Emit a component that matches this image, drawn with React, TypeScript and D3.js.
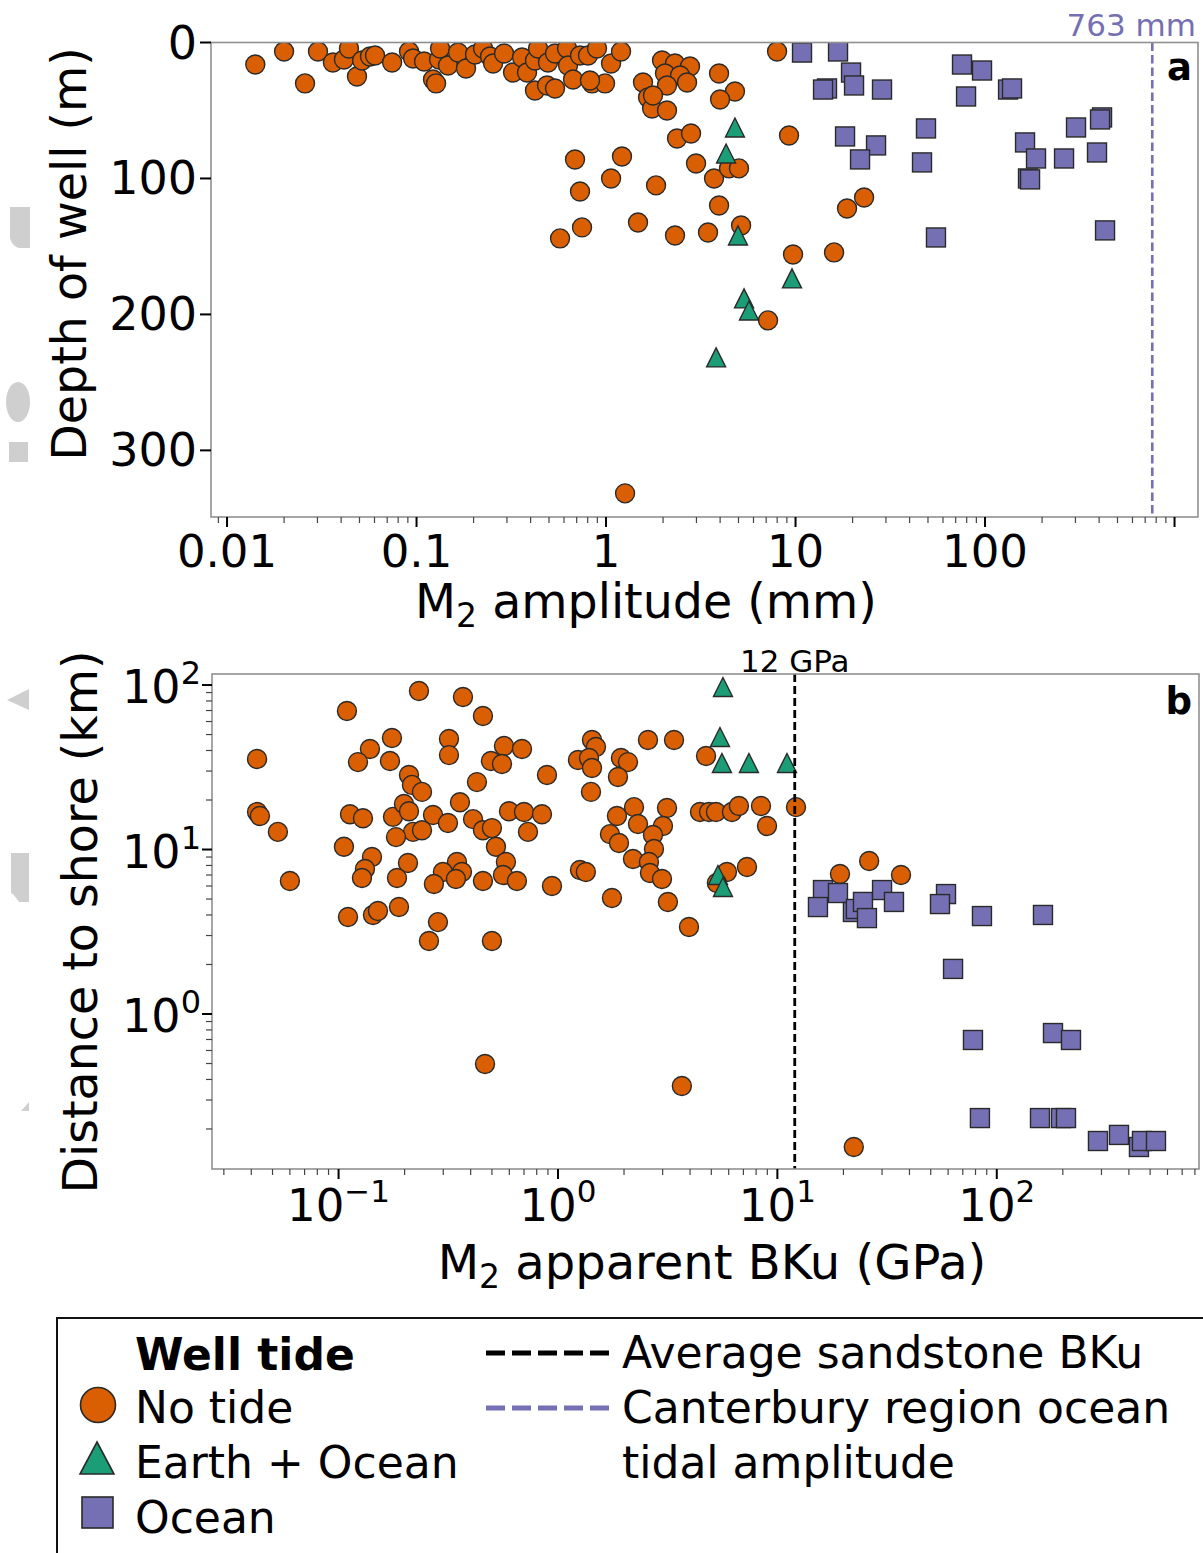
import React, { useEffect, useRef } from 'react';
import * as d3 from 'd3';

// ---- panel a: M2 amplitude (mm) vs depth of well (m)
const noTideAmp = [0.0141, 0.02, 0.0258, 0.0302, 0.0362, 0.0414, 0.044, 0.0485, 0.0516, 0.0568, 0.0604, 0.0743, 0.0913, 0.0959, 0.1096, 0.1222, 0.1268, 0.1315, 0.1331, 0.1466, 0.1656, 0.1824, 0.2036, 0.2244, 0.2443, 0.2535, 0.2897, 0.3231, 0.3605, 0.3829, 0.4217, 0.4377, 0.4217, 0.4884, 0.538, 0.494, 0.538, 0.6227, 0.63, 0.6698, 0.7295, 0.8035, 0.8436, 0.8963, 0.988, 1.063, 1.2, 1.567, 1.666, 1.75, 0.823, 1.975, 2.312, 2.774, 2.048, 2.458, 2.676, 2.098, 1.77, 2.098, 3.948, 4.79, 3.997, 2.37, 2.809, 2.985, 0.686, 1.214, 1.063, 1.836, 0.729, 3.715, 4.457, 5.03, 3.948, 0.747, 0.572, 1.475, 2.312, 3.453, 5.16, 7.99, 9.24, 18.7, 23.0, 9.7, 15.97, 7.16, 1.26];
const noTideDepth = [16.2, 6.6, 30.1, 6.6, 14.7, 12.5, 4.4, 25.0, 13.2, 10.3, 9.6, 14.7, 6.6, 11.8, 14.0, 27.2, 30.1, 12.5, 4.4, 16.9, 7.4, 19.1, 8.8, 4.4, 10.3, 15.4, 8.1, 22.1, 11.0, 22.1, 13.2, 4.4, 35.3, 31.6, 33.8, 14.7, 8.1, 4.4, 16.9, 27.2, 9.6, 9.6, 30.1, 4.4, 30.1, 15.4, 6.6, 29.4, 40.4, 48.5, 27.9, 13.2, 15.4, 17.6, 22.8, 24.3, 29.4, 31.6, 39.0, 50.0, 22.8, 36.0, 41.9, 70.6, 66.9, 89.0, 86.0, 83.8, 100.0, 105.1, 109.6, 100.0, 92.6, 92.6, 119.9, 136.0, 144.1, 132.4, 141.9, 139.7, 134.6, 6.6, 68.4, 122.1, 114.0, 155.9, 154.4, 204.4, 331.6];
const earthOceanAmp = [4.79, 4.3, 4.97, 9.58, 5.35, 5.68, 3.81];
const earthOceanDepth = [62.5, 81.6, 141.9, 173.5, 188.2, 197.1, 231.6];
const oceanAmp = [10.82, 16.76, 19.63, 20.36, 14.66, 13.97, 28.6, 75.6, 96.4, 79.4, 132.3, 138.8, 18.25, 26.6, 21.9, 48.8, 46.5, 55.1, 162.6, 185.8, 168.6, 172.8, 261.2, 302.1, 414.4, 404.5, 389.9, 429.8];
const oceanDepth = [7.4, 6.6, 22.1, 31.6, 33.8, 34.6, 34.6, 16.2, 20.6, 39.7, 34.6, 33.8, 69.1, 75.7, 86.0, 63.2, 88.2, 143.4, 73.5, 85.3, 100.0, 100.7, 85.3, 62.5, 55.1, 56.6, 80.9, 138.2];

// ---- panel b: M2 apparent BKu (GPa) vs distance to shore (km)
const noTideBku = [0.2325, 0.369, 0.455, 0.1092, 0.1751, 0.3186, 0.3186, 0.139, 0.1226, 0.1715, 0.0425, 0.2094, 0.216, 0.24, 0.4273, 0.5674, 0.6855, 0.495, 0.5556, 0.891, 1.429, 1.49, 1.234, 1.385, 1.429, 1.414, 1.937, 2.085, 1.877, 2.572, 3.38, 4.73, 0.0425, 0.0529, 0.06, 0.1127, 0.1292, 0.177, 0.1987, 0.2094, 0.2694, 0.3152, 0.3575, 0.41, 0.455, 0.5, 0.598, 0.7, 0.8455, 0.73, 0.2184, 0.24, 0.1827, 0.1058, 0.5217, 0.142, 0.1319, 0.1278, 0.2072, 0.1846, 0.3465, 0.299, 0.365, 0.3427, 0.272, 0.579, 0.5615, 0.455, 0.65, 0.939, 1.26, 1.34, 0.1104, 0.1435, 0.1512, 0.1885, 0.2838, 0.2582, 0.5, 1.857, 2.221, 2.316, 3.14, 3.01, 1.726, 1.897, 2.71, 2.739, 2.197, 2.598, 2.626, 2.979, 1.762, 3.17, 3.955, 4.44, 4.88, 5.25, 6.21, 6.68, 8.42, 8.97, 12.16, 7.27, 5.89, 5.3, 19.29, 26.2, 36.6, 22.3, 0.465, 3.67, 0.0438];
const noTideDist = [91.9, 84.5, 64.8, 69.5, 47.6, 47.0, 37.5, 40.8, 34.0, 34.5, 35.5, 28.4, 24.7, 22.4, 25.7, 42.6, 40.8, 34.5, 33.1, 28.4, 46.3, 42.0, 35.0, 36.0, 31.3, 22.4, 36.0, 34.0, 27.6, 46.3, 46.3, 37.0, 16.9, 12.8, 6.43, 16.4, 15.5, 15.8, 18.9, 17.1, 16.2, 14.5, 19.4, 15.3, 13.1, 13.5, 17.1, 16.9, 16.4, 12.8, 12.8, 13.1, 11.9, 10.4, 10.4, 9.0, 7.61, 6.71, 8.28, 6.71, 8.4, 7.3, 7.3, 6.62, 6.17, 8.4, 7.0, 6.43, 6.43, 6.0, 7.51, 7.3, 3.89, 4.0, 4.23, 4.47, 3.62, 2.78, 2.78, 16.0, 18.1, 14.3, 17.9, 13.9, 12.4, 10.95, 12.25, 10.07, 8.75, 8.4, 7.2, 6.62, 5.07, 4.8, 3.38, 16.9, 16.9, 16.9, 16.9, 18.4, 18.4, 13.9, 18.1, 7.83, 7.3, 6.26, 7.1, 8.51, 7.0, 0.1554, 0.497, 0.365, 16.0];
const earthOceanBku = [5.65, 5.475, 5.59, 7.42, 11.06, 5.36, 5.65];
const earthOceanDist = [97.2, 48.3, 33.6, 33.6, 33.6, 7.0, 5.92];
const oceanBku = [16.14, 15.31, 18.89, 22.1, 22.8, 24.56, 25.6, 30.0, 34.0, 58.7, 55.1, 85.6, 162.4, 63.2, 77.9, 180.4, 217.9, 83.8, 157.4, 196.2, 206.8, 289.2, 360.6, 444.7, 459.0, 531.7];
const oceanDist = [5.67, 4.47, 5.44, 4.17, 4.35, 4.8, 3.83, 5.67, 4.8, 5.36, 4.66, 3.94, 4.0, 1.88, 0.695, 0.766, 0.695, 0.233, 0.233, 0.233, 0.233, 0.169, 0.184, 0.1554, 0.169, 0.169];

// ticks and reference lines
const depthTicks = [0, 100, 200, 300];
const ampTicks = [0.01, 0.1, 1, 10, 100, 1000];
const ampTickLabels = ['0.01', '0.1', '1', '10', '100', ''];
const bkuExponents = [-1, 0, 1, 2];
const distExponents = [0, 1, 2];
const sandstoneBku = 12;
const canterburyAmp = 763;
const seriesNames = ['No tide', 'Earth + Ocean', 'Ocean'];
const lineNames = ['Average sandstone BKu', 'Canterbury region ocean', 'tidal amplitude'];

const ORANGE = '#d95f02';
const GREEN = '#1b9e77';
const PURPLE = '#7570b3';
const EDGE = '#2a2a2a';
const SPINE = '#909090';
const FONT = '"DejaVu Sans", sans-serif';

const logRange = (lo, hi) => {
    var out = [];
    for (var e = Math.floor(Math.log10(lo)); e <= Math.ceil(Math.log10(hi)); e++) {
        for (var k = 1; k < 10; k++) {
            var v = k * Math.pow(10, e);
            if (v >= lo && v <= hi) out.push({ v: v, major: k === 1 });
        }
    }
    return out;
};

const addMarkers = (g, xs, ys, sx, sy, shape, fill, size) => {
    var pts = d3.zip(xs, ys);
    var h = size / 2;
    var sel = g.selectAll(null).data(pts).enter();
    var m;
    if (shape === 'circle') {
        m = sel.append('circle')
            .attr('cx', d => sx(d[0]))
            .attr('cy', d => sy(d[1]))
            .attr('r', h);
    } else if (shape === 'square') {
        m = sel.append('rect')
            .attr('x', d => sx(d[0]) - h)
            .attr('y', d => sy(d[1]) - h)
            .attr('width', size)
            .attr('height', size);
    } else {
        m = sel.append('path')
            .attr('d', d => {
                var x = sx(d[0]), y = sy(d[1]);
                return `M${x},${y - h}L${x + h},${y + h}L${x - h},${y + h}Z`;
            });
    }
    m.attr('fill', fill).attr('stroke', EDGE).attr('stroke-width', 1.4);
};

const App = () => {
    const ref = useRef(null);

    useEffect(() => {
        const svg = d3.select(ref.current);
        svg.selectAll('*').remove();
        const defs = svg.append('defs');
        const MS = 19;

        // faint grey remnants on the left page edge (behind the axis titles)
        const ghost = svg.append('g').attr('fill', '#cfcfcf');
        ghost.append('path').attr('d', 'M10,207H30V248H19Q12,246 10,238Z');
        ghost.append('ellipse').attr('cx', 18).attr('cy', 402).attr('rx', 12).attr('ry', 20);
        ghost.append('rect').attr('x', 9).attr('y', 442).attr('width', 19).attr('height', 20);
        ghost.append('path').attr('d', 'M7,700L29,689V710Z');
        ghost.append('path').attr('d', 'M11,853H29V902H19Q13,893 11,893Z');
        ghost.append('path').attr('d', 'M21,1111L29,1102V1111Z');

        // ================= panel a
        const ax = d3.scaleLog().domain([0.00823, 1330]).range([211, 1198]);
        const ay = d3.scaleLinear().domain([0, 349]).range([42.5, 517]);
        defs.append('clipPath').attr('id', 'clipA').append('rect')
            .attr('x', 211).attr('y', 42.5).attr('width', 987).attr('height', 474.5);

        const ga = svg.append('g').attr('clip-path', 'url(#clipA)');
        addMarkers(ga, noTideAmp, noTideDepth, ax, ay, 'circle', ORANGE, MS);
        addMarkers(ga, earthOceanAmp, earthOceanDepth, ax, ay, 'triangle', GREEN, MS);
        addMarkers(ga, oceanAmp, oceanDepth, ax, ay, 'square', PURPLE, MS);

        svg.append('line')
            .attr('x1', ax(canterburyAmp)).attr('x2', ax(canterburyAmp))
            .attr('y1', 42.5).attr('y2', 517)
            .attr('stroke', PURPLE).attr('stroke-width', 2.6).attr('stroke-dasharray', '8.5 4');

        svg.append('rect').attr('x', 211).attr('y', 42.5).attr('width', 987).attr('height', 474.5)
            .attr('fill', 'none').attr('stroke', SPINE).attr('stroke-width', 1.6);

        // x ticks a
        logRange(0.00823, 1330).forEach(t => {
            svg.append('line')
                .attr('x1', ax(t.v)).attr('x2', ax(t.v))
                .attr('y1', 517).attr('y2', 517 + (t.major ? 10 : 6))
                .attr('stroke', t.major ? '#000' : '#444').attr('stroke-width', t.major ? 2 : 1.2);
        });
        ampTicks.forEach((v, i) => {
            svg.append('text').attr('x', ax(v)).attr('y', 567)
                .attr('text-anchor', 'middle').attr('font-size', 45).attr('font-family', FONT)
                .text(ampTickLabels[i]);
        });
        // y ticks a
        depthTicks.forEach(v => {
            svg.append('line').attr('x1', 200).attr('x2', 211).attr('y1', ay(v)).attr('y2', ay(v))
                .attr('stroke', '#000').attr('stroke-width', 2);
            svg.append('text').attr('x', 197).attr('y', ay(v) + 16)
                .attr('text-anchor', 'end').attr('font-size', 46).attr('font-family', FONT)
                .text(v);
        });

        const xla = svg.append('text').attr('x', 646).attr('y', 618)
            .attr('text-anchor', 'middle').attr('font-size', 47.5).attr('font-family', FONT);
        xla.append('tspan').text('M');
        xla.append('tspan').attr('dy', 9).attr('font-size', 33).text('2');
        xla.append('tspan').attr('dy', -9).text(' amplitude (mm)');

        svg.append('text').attr('transform', 'translate(86,254) rotate(-90)')
            .attr('text-anchor', 'middle').attr('font-size', 47.5).attr('font-family', FONT)
            .text('Depth of well (m)');

        svg.append('text').attr('x', 1196).attr('y', 36).attr('text-anchor', 'end')
            .attr('font-size', 31).attr('font-family', FONT).attr('fill', PURPLE)
            .text(canterburyAmp + ' mm');
        svg.append('text').attr('x', 1192).attr('y', 80).attr('text-anchor', 'end')
            .attr('font-size', 37).attr('font-weight', 'bold').attr('font-family', FONT)
            .text('a');

        // ================= panel b
        const bx = d3.scaleLog().domain([0.02649, 835.1]).range([212, 1199]);
        const by = d3.scaleLog().domain([0.1142, 116.7]).range([1169, 674]);
        defs.append('clipPath').attr('id', 'clipB').append('rect')
            .attr('x', 212).attr('y', 674).attr('width', 987).attr('height', 495);

        const gb = svg.append('g').attr('clip-path', 'url(#clipB)');
        addMarkers(gb, noTideBku, noTideDist, bx, by, 'circle', ORANGE, MS);
        addMarkers(gb, earthOceanBku, earthOceanDist, bx, by, 'triangle', GREEN, MS);
        addMarkers(gb, oceanBku, oceanDist, bx, by, 'square', PURPLE, MS);

        svg.append('line')
            .attr('x1', bx(sandstoneBku)).attr('x2', bx(sandstoneBku))
            .attr('y1', 674).attr('y2', 1169)
            .attr('stroke', '#000').attr('stroke-width', 2.8).attr('stroke-dasharray', '8 4');

        svg.append('rect').attr('x', 212).attr('y', 674).attr('width', 987).attr('height', 495)
            .attr('fill', 'none').attr('stroke', SPINE).attr('stroke-width', 1.6);

        logRange(0.02649, 835.1).forEach(t => {
            svg.append('line')
                .attr('x1', bx(t.v)).attr('x2', bx(t.v))
                .attr('y1', 1169).attr('y2', 1169 + (t.major ? 10 : 6))
                .attr('stroke', t.major ? '#000' : '#444').attr('stroke-width', t.major ? 2 : 1.2);
        });
        bkuExponents.forEach(e => {
            const t = svg.append('text').attr('x', bx(Math.pow(10, e))).attr('y', 1221)
                .attr('text-anchor', 'middle').attr('font-size', 45).attr('font-family', FONT);
            t.append('tspan').text('10');
            t.append('tspan').attr('dy', -19).attr('font-size', 31).text(e < 0 ? '\u2212' + (-e) : String(e));
        });
        logRange(0.1142, 116.7).forEach(t => {
            svg.append('line')
                .attr('x1', 212 - (t.major ? 10 : 6)).attr('x2', 212)
                .attr('y1', by(t.v)).attr('y2', by(t.v))
                .attr('stroke', t.major ? '#000' : '#444').attr('stroke-width', t.major ? 2 : 1.2);
        });
        distExponents.forEach(e => {
            const t = svg.append('text').attr('x', 201).attr('y', by(Math.pow(10, e)) + 18)
                .attr('text-anchor', 'end').attr('font-size', 46).attr('font-family', FONT);
            t.append('tspan').text('10');
            t.append('tspan').attr('dy', -19).attr('font-size', 32).text(String(e));
        });

        const xlb = svg.append('text').attr('x', 712).attr('y', 1279)
            .attr('text-anchor', 'middle').attr('font-size', 48).attr('font-family', FONT);
        xlb.append('tspan').text('M');
        xlb.append('tspan').attr('dy', 9).attr('font-size', 33).text('2');
        xlb.append('tspan').attr('dy', -9).text(' apparent BKu (GPa)');

        svg.append('text').attr('transform', 'translate(97,922) rotate(-90)')
            .attr('text-anchor', 'middle').attr('font-size', 47.5).attr('font-family', FONT)
            .text('Distance to shore (km)');

        svg.append('text').attr('x', bx(sandstoneBku)).attr('y', 672).attr('text-anchor', 'middle')
            .attr('font-size', 31).attr('font-family', FONT)
            .text(sandstoneBku + ' GPa');
        svg.append('text').attr('x', 1192).attr('y', 714).attr('text-anchor', 'end')
            .attr('font-size', 37).attr('font-weight', 'bold').attr('font-family', FONT)
            .text('b');

        // ================= legend
        const lg = svg.append('g');
        lg.append('rect').attr('x', 57).attr('y', 1318).attr('width', 1200).attr('height', 300)
            .attr('fill', '#fff').attr('stroke', '#111').attr('stroke-width', 2);
        lg.append('text').attr('x', 135).attr('y', 1370).attr('font-size', 44)
            .attr('font-weight', 'bold').attr('font-family', FONT).text('Well tide');
        const rows = [1423, 1478, 1533];
        seriesNames.forEach((name, i) => {
            lg.append('text').attr('x', 135).attr('y', rows[i]).attr('font-size', 44)
                .attr('font-family', FONT).text(name);
        });
        lg.append('circle').attr('cx', 98).attr('cy', 1405).attr('r', 17.5)
            .attr('fill', ORANGE).attr('stroke', EDGE).attr('stroke-width', 1.6);
        lg.append('path').attr('d', 'M97,1442L114,1474L80,1474Z')
            .attr('fill', GREEN).attr('stroke', EDGE).attr('stroke-width', 1.6);
        lg.append('rect').attr('x', 82).attr('y', 1497).attr('width', 31).attr('height', 31)
            .attr('fill', PURPLE).attr('stroke', EDGE).attr('stroke-width', 1.6);

        lg.append('line').attr('x1', 486).attr('x2', 616).attr('y1', 1353).attr('y2', 1353)
            .attr('stroke', '#000').attr('stroke-width', 5).attr('stroke-dasharray', '19 7');
        lg.append('line').attr('x1', 486).attr('x2', 616).attr('y1', 1408).attr('y2', 1408)
            .attr('stroke', PURPLE).attr('stroke-width', 5).attr('stroke-dasharray', '19 7');
        [1368, 1423, 1478].forEach((y, i) => {
            lg.append('text').attr('x', 622).attr('y', y).attr('font-size', 44)
                .attr('font-family', FONT).text(lineNames[i]);
        });
    }, []);

    return (
        <svg
            ref={ref}
            width={1203}
            height={1553}
            style={{ position: 'absolute', left: 0, top: 0, background: '#fff' }}
        />
    );
};

export default App;
